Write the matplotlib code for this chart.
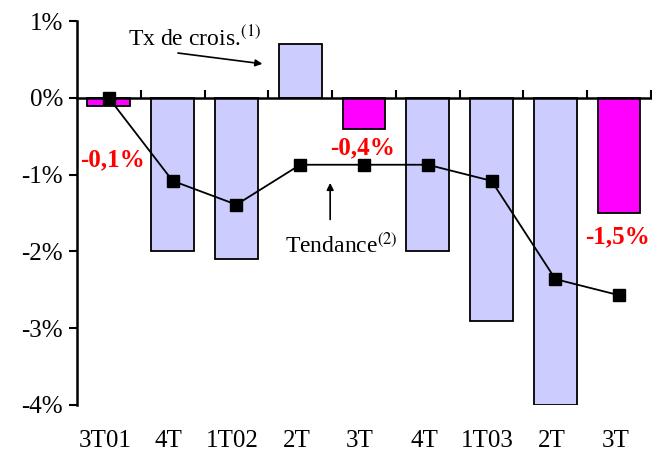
import numpy as np
import matplotlib
matplotlib.use('Agg')
import matplotlib.pyplot as plt

# data
quarters = ['3T01', '4T', '1T02', '2T', '3T', '4T', '1T03', '2T', '3T']
growth = [-0.1, -2.0, -2.1, 0.7, -0.4, -2.0, -2.9, -4.0, -1.5]
trend = [0.0, -1.08, -1.39, -0.87, -0.87, -0.87, -1.08, -2.36, -2.57]
highlight = [0, 4, 8]
yticks = [1, 0, -1, -2, -3, -4]

plt.rcParams['font.family'] = ['Liberation Serif', 'DejaVu Serif']
plt.rcParams['mathtext.fontset'] = 'stix'

fig = plt.figure(figsize=(6.52, 4.51), dpi=100)
ax = fig.add_axes([0.118, 0.102, 0.8805, 0.851])

x = np.arange(len(quarters))
colors = ['#ff00ff' if i in highlight else '#ccccff' for i in range(len(quarters))]
ax.bar(x, growth, width=0.67, color=colors, edgecolor='black', linewidth=1.3, zorder=2)
ax.plot(x, trend, color='black', linewidth=1.3, marker='s', markersize=8.5, zorder=4)

ax.set_xlim(-0.5, len(quarters) - 0.5)
ax.set_ylim(-4, 1)

ax.spines['top'].set_visible(False)
ax.spines['right'].set_visible(False)
ax.spines['bottom'].set_position(('data', 0))
ax.spines['bottom'].set_linewidth(1.8)
ax.spines['bottom'].set_zorder(3)
ax.spines['left'].set_linewidth(1.8)

ax.set_xticks(np.arange(0.5, len(quarters), 1))
ax.set_xticklabels([])
ax.tick_params(axis='x', direction='in', length=6, width=1.5)
ax.set_yticks(yticks)
ax.set_yticklabels([str(v) + '%' for v in yticks], fontsize=18)
ax.tick_params(axis='y', direction='out', length=6, width=1.5, pad=4)

# category labels under the chart
for i, q in enumerate(quarters):
    ax.text(i - 0.06, -4.33, q, ha='center', va='top', fontsize=18, clip_on=False)

# red value labels
ax.text(0.05, -0.8, '-0,1%', color='red', fontweight='bold', fontsize=18, ha='center', va='center')
ax.text(3.98, -0.65, '-0,4%', color='red', fontweight='bold', fontsize=18, ha='center', va='center')
ax.text(7.98, -1.81, '-1,5%', color='red', fontweight='bold', fontsize=18, ha='center', va='center')

# annotations
ax.annotate('', xy=(2.45, 0.44), xytext=(1.04, 0.59),
            arrowprops=dict(arrowstyle='-|>', color='black', lw=1.2, mutation_scale=10))
ax.text(0.3, 0.78, 'Tx de crois.$^{(1)}$', fontsize=17, ha='left', va='center')
ax.annotate('', xy=(3.47, -1.07), xytext=(3.47, -1.62),
            arrowprops=dict(arrowstyle='-|>', color='black', lw=1.2, mutation_scale=10))
ax.text(2.76, -1.92, 'Tendance$^{(2)}$', fontsize=17, ha='left', va='center')

plt.savefig('out.png', dpi=100)
